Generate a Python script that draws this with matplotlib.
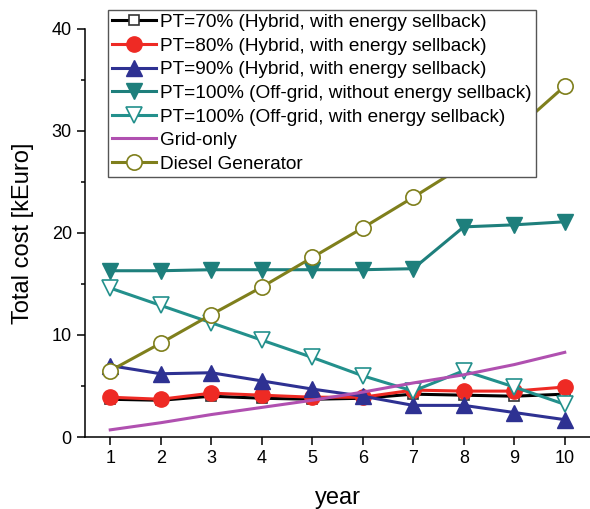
import numpy as np
import matplotlib.pyplot as plt

plt.rcParams['font.family'] = ['Liberation Sans', 'DejaVu Sans']

years = [1, 2, 3, 4, 5, 6, 7, 8, 9, 10]

pt70 = [3.7, 3.6, 4.0, 3.8, 3.7, 3.8, 4.2, 4.1, 4.0, 4.2]
pt80 = [3.9, 3.7, 4.3, 4.1, 3.9, 3.9, 4.6, 4.5, 4.5, 4.9]
pt90 = [7.0, 6.2, 6.3, 5.5, 4.7, 4.0, 3.1, 3.1, 2.4, 1.7]
offgrid_no_sell = [16.3, 16.3, 16.4, 16.4, 16.4, 16.4, 16.5, 20.6, 20.8, 21.1]
offgrid_sell = [14.6, 12.9, 11.2, 9.5, 7.8, 6.0, 4.5, 6.5, 4.9, 3.2]
grid_only = [0.7, 1.4, 2.2, 2.9, 3.6, 4.4, 5.3, 6.1, 7.1, 8.3]
diesel = [6.5, 9.2, 12.0, 14.7, 17.6, 20.5, 23.5, 26.6, 30.0, 34.4]

fig = plt.figure(figsize=(5.9, 5.09), dpi=100)
ax = fig.add_axes([85/590, 1 - 437/509, 1 - 85/590, (437 - 29)/509])

lw = 2.2
ax.plot(years, pt70, color='black', lw=lw, marker='s', ms=7, mfc='white', mec='#333333', mew=1.2,
        label='PT=70% (Hybrid, with energy sellback)')
ax.plot(years, pt80, color='#ee2a24', lw=lw, marker='o', ms=11, mfc='#ee2a24', mec='#ee2a24',
        label='PT=80% (Hybrid, with energy sellback)')
ax.plot(years, pt90, color='#2e3192', lw=lw, marker='^', ms=11, mfc='#2e3192', mec='#2e3192',
        label='PT=90% (Hybrid, with energy sellback)')
ax.plot(years, offgrid_no_sell, color='#1e7f7c', lw=lw, marker='v', ms=11, mfc='#1e7f7c', mec='#1e7f7c',
        label='PT=100% (Off-grid, without energy sellback)')
ax.plot(years, offgrid_sell, color='#23908c', lw=lw, marker='v', ms=11, mfc='white', mec='#23908c', mew=1.2,
        label='PT=100% (Off-grid, with energy sellback)')
ax.plot(years, grid_only, color='#b050b0', lw=lw, label='Grid-only')
ax.plot(years, diesel, color='#7f7f1c', lw=lw, marker='o', ms=11, mfc='white', mec='#7f7f1c', mew=1.2,
        label='Diesel Generator')

ax.set_xlim(0.5, 10.5)
ax.set_ylim(0, 40)
ax.set_xticks(years)
ax.set_yticks([0, 10, 20, 30, 40])
ax.set_yticks([5, 15, 25, 35], minor=True)
for side in ['top', 'right']:
    ax.spines[side].set_visible(False)
for side in ['left', 'bottom']:
    ax.spines[side].set_linewidth(1.1)
ax.tick_params(which='major', direction='out', length=6, width=1.1, labelsize=13)
ax.tick_params(which='minor', direction='out', length=3, width=1.1)

ax.set_xlabel('year', fontsize=17, labelpad=14)
ax.set_ylabel('Total cost [kEuro]', fontsize=17, labelpad=13)

leg = ax.legend(loc='upper left', bbox_to_anchor=(108/590, 1 - 10/509), bbox_transform=fig.transFigure,
                fontsize=13.7, frameon=True, fancybox=False, framealpha=1, edgecolor='#555555',
                handlelength=2.3, handletextpad=0.25, labelspacing=0.33, borderpad=0.2,
                borderaxespad=0)
leg.get_frame().set_linewidth(1.0)

fig.savefig('out.png', dpi=100)
